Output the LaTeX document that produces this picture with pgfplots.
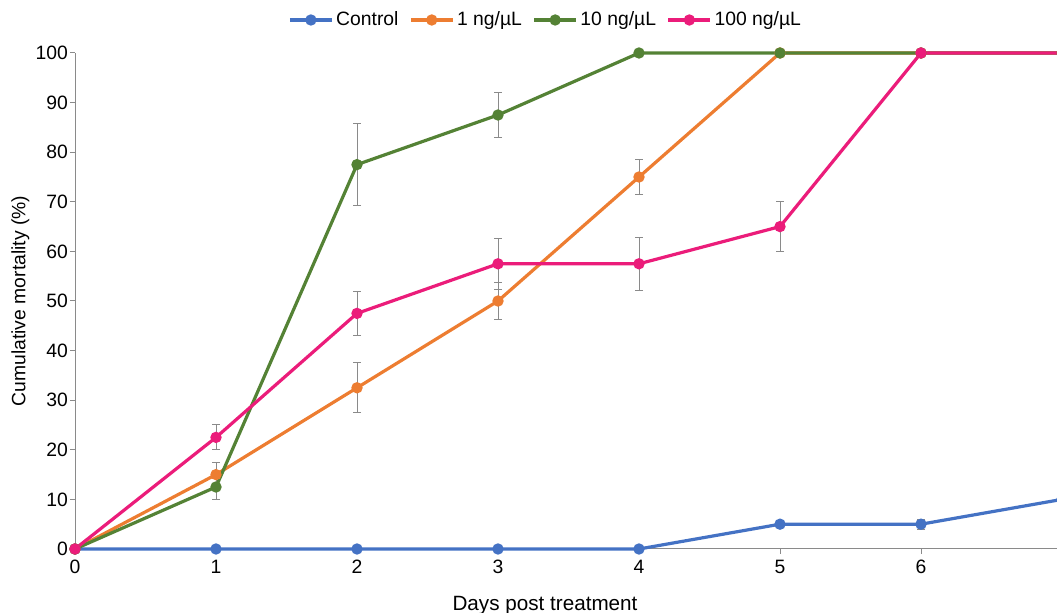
\documentclass[border=0pt]{standalone}
\usepackage{pgfplots}
\pgfplotsset{compat=1.18}
\usepackage{fontspec}
\setmainfont{Liberation Sans}
\definecolor{cblue}{HTML}{4472C4}
\definecolor{corange}{HTML}{ED7D31}
\definecolor{cgreen}{HTML}{548235}
\definecolor{cpink}{HTML}{EB1C7A}
\definecolor{axgray}{HTML}{8A8A8A}
\begin{document}
\begin{tikzpicture}
\path[use as bounding box] (-56.25pt,-48pt) rectangle (736.5pt,411.75pt);
\clip (-56.25pt,-48pt) rectangle (736.5pt,411.75pt);
\begin{axis}[
  overlay,
  at={(0pt,0pt)}, anchor=south west,
  scale only axis, width=740.25pt, height=372pt,
  xmin=0, xmax=7, ymin=0, ymax=100,
  clip=false,
  axis x line*=bottom, axis y line*=left,
  axis line style={axgray, line width=0.75pt},
  tick style={axgray, line width=0.75pt},
  tick align=outside, major tick length=3.75pt,
  xtick={0,1,2,3,4,5,6,7},
  ytick={0,10,20,30,40,50,60,70,80,90,100},
  /pgf/number format/assume math mode=true,
  ticklabel style={font=\fontsize{14.5}{17}\selectfont},
  yticklabel style={xshift=2pt},
  xticklabel style={yshift=-1pt},
  xlabel={Days post treatment},
  ylabel={Cumulative mortality (\%)},
  xlabel style={font=\fontsize{15.5}{18}\selectfont, at={(rel axis cs:0.4762,0)}, anchor=center, yshift=-42.5pt},
  ylabel style={font=\fontsize{14.5}{17}\selectfont, at={(rel axis cs:0,0.5)}, anchor=center, rotate=0, yshift=41pt},
  legend columns=4,
  legend style={at={(rel axis cs:0.4772,1)}, anchor=center, yshift=24.75pt, draw=none, fill=none,
    font=\fontsize{14.5}{17}\selectfont, inner sep=0pt,
    /tikz/every even column/.append style={column sep=6pt}},
  legend image code/.code={\draw[#1, mark repeat=2, mark phase=2] plot coordinates {(0pt,0pt)(15.75pt,0pt)(31.5pt,0pt)};},
  every axis plot/.append style={line width=2.4pt, mark=*, mark size=3pt, mark options={solid}},
  error bars/error bar style={axgray, line width=0.75pt},
  error bars/error mark options={axgray, line width=0.75pt, mark size=3pt, rotate=90},
]
\addplot[cblue, mark options={fill=cblue, draw=cblue}] plot[error bars/.cd, y dir=both, y explicit] table[x=x, y=y, y error=e] {
x y e
0 0 0
1 0 0
2 0 0
3 0 0
4 0 0
5 5 0
6 5 1
7 10 2.2
};
\addlegendentry{Control}
\addplot[corange, mark options={fill=corange, draw=corange}] plot[error bars/.cd, y dir=both, y explicit] table[x=x, y=y, y error=e] {
x y e
0 0 0
1 15 2.5
2 32.5 5
3 50 3.7
4 75 3.5
5 100 0
6 100 0
7 100 0
};
\addlegendentry{1 ng/µL}
\addplot[cgreen, mark options={fill=cgreen, draw=cgreen}] plot[error bars/.cd, y dir=both, y explicit] table[x=x, y=y, y error=e] {
x y e
0 0 0
1 12.5 2.5
2 77.5 8.3
3 87.5 4.6
4 100 0
5 100 0
6 100 0
7 100 0
};
\addlegendentry{10 ng/µL}
\addplot[cpink, mark options={fill=cpink, draw=cpink}] plot[error bars/.cd, y dir=both, y explicit] table[x=x, y=y, y error=e] {
x y e
0 0 0
1 22.5 2.5
2 47.5 4.4
3 57.5 5.2
4 57.5 5.4
5 65 5
6 100 0
7 100 0
};
\addlegendentry{100 ng/µL}
\end{axis}
\end{tikzpicture}
\end{document}
